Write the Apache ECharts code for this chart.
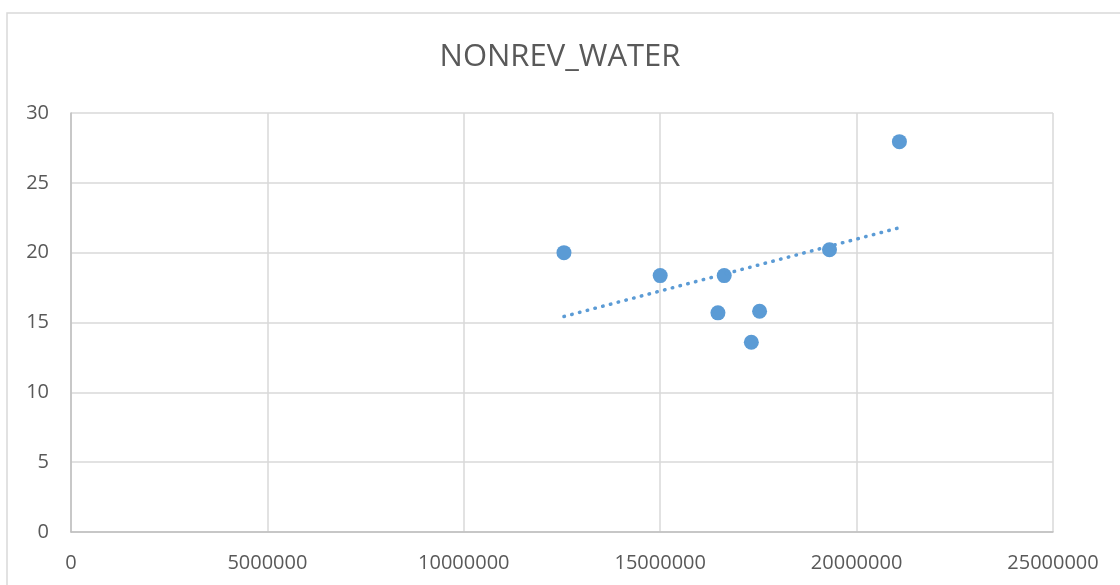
<!DOCTYPE html>
<html>
<head>
<meta charset="utf-8">
<script src="https://cdn.jsdelivr.net/npm/echarts@6/dist/echarts.min.js"></script>
<style>
  html, body { margin: 0; padding: 0; background: #fff; }
  #main { width: 1120px; height: 585px; }
</style>
</head>
<body>
<div id="main"></div>
<script>
// values
var revenue = [12550000, 15000000, 16630000, 16470000, 17530000, 17320000, 19310000, 21090000];
var nonrevWater = [20.0, 18.36, 18.36, 15.69, 15.81, 13.59, 20.21, 27.95];
// linear trendline, end points as drawn in the reference
var trendX = [12550000, 21120000];
var trendY = [15.43, 21.81];

var points = revenue.map(function (x, i) { return [x, nonrevWater[i]]; });
var trend = trendX.map(function (x, i) { return [x, trendY[i]]; });

var myChart = echarts.init(document.getElementById('main'));
var labelFont = { color: '#595959', fontSize: 20, fontFamily: 'Open Sans' };

var option = {
  backgroundColor: '#fff',
  animation: false,
  graphic: [{
    type: 'rect',
    shape: { x: 7, y: 13, width: 1130, height: 600 },
    style: { fill: 'none', stroke: '#d9d9d9', lineWidth: 1.5 },
    silent: true
  }],
  title: {
    text: 'NONREV_WATER',
    left: 'center',
    top: 37,
    textStyle: { color: '#595959', fontSize: 31, fontWeight: 'normal', fontFamily: 'Open Sans' }
  },
  grid: { left: 71, right: 67, top: 113, bottom: 53 },
  xAxis: {
    type: 'value',
    min: 0,
    max: 25000000,
    interval: 5000000,
    axisLine: { show: true, lineStyle: { color: '#bfbfbf', width: 1.5 } },
    axisTick: { show: false },
    splitLine: { show: true, lineStyle: { color: '#d9d9d9', width: 1.5 } },
    axisLabel: Object.assign({ margin: 21, formatter: function (v) { return String(v); } }, labelFont)
  },
  yAxis: {
    type: 'value',
    min: 0,
    max: 30,
    interval: 5,
    axisLine: { show: true, lineStyle: { color: '#bfbfbf', width: 1.5 } },
    axisTick: { show: false },
    splitLine: { show: true, lineStyle: { color: '#d9d9d9', width: 1.5 } },
    axisLabel: Object.assign({ margin: 22 }, labelFont)
  },
  series: [
    {
      type: 'scatter',
      data: points,
      symbolSize: 15,
      itemStyle: { color: '#5b9bd5', opacity: 1 },
      z: 2
    },
    {
      type: 'line',
      data: trend,
      showSymbol: false,
      lineStyle: { color: '#5b9bd5', width: 3.5, type: [0.5, 7.5], cap: 'round' },
      z: 3
    }
  ]
};
myChart.setOption(option);
</script>
</body>
</html>
